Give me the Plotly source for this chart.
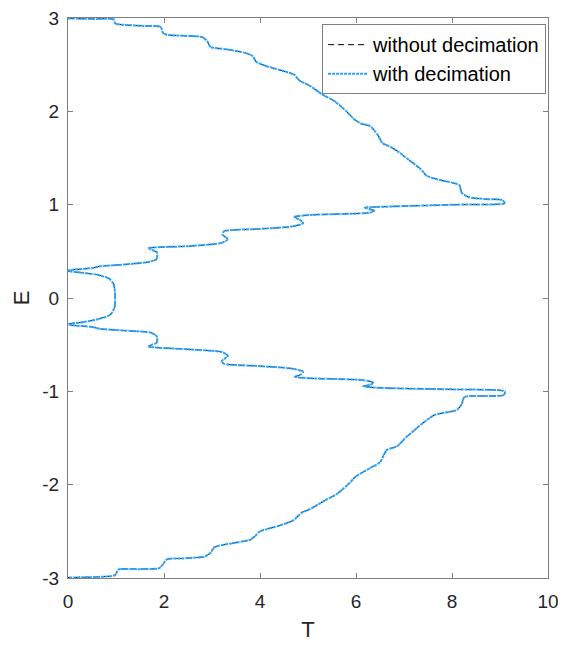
import plotly.graph_objects as go

T = [0.0, 0.5, 0.95, 0.99, 1.2, 1.6, 1.93, 1.98, 2.05, 2.4, 2.8, 2.9, 2.97, 3.3, 3.7, 3.85, 3.92, 4.1, 4.5, 4.72,
     4.82, 5.05, 5.3, 5.55, 5.8, 5.95, 6.1, 6.3, 6.45, 6.55, 6.72, 6.9, 7.1, 7.35, 7.47, 7.7, 8.15, 8.2, 8.35, 8.7,
     9.05, 9.1,
     8.1, 7.0, 6.4, 6.18, 6.38, 6.3, 5.05, 4.72, 4.85, 4.9, 4.65, 4.0, 3.25, 3.22, 3.33, 3.2, 2.5, 1.68, 1.75, 1.85,
     1.85, 1.72, 1.2, 0.67, 0.5, 0.05,
     0.0, 0.3, 0.6, 0.85, 0.95, 0.98, 0.97, 0.88, 0.6, 0.3, 0.0,
     0.05, 0.5, 0.67, 1.2, 1.72, 1.85, 1.85, 1.75, 1.68, 2.5, 3.22, 3.33, 3.2, 3.25, 4.0, 4.65, 4.9, 4.85, 4.72,
     5.05, 6.15, 6.36, 6.3, 6.15, 6.4, 7.0, 8.1, 9.1,
     9.08, 8.7, 8.26, 8.2, 8.1, 7.65, 7.47, 7.3, 7.05, 6.85, 6.64, 6.5, 6.3, 6.0, 5.85, 5.6, 5.35, 5.05, 4.87, 4.7,
     4.4, 4.0, 3.9, 3.8, 3.4, 3.05, 2.97, 2.85, 2.4, 2.06, 1.97, 1.9, 1.5, 1.05, 0.98, 0.5, 0.0]

E = [2.995, 2.99, 2.985, 2.94, 2.925, 2.915, 2.905, 2.84, 2.82, 2.81, 2.795, 2.75, 2.69, 2.665, 2.625, 2.59, 2.53,
     2.49, 2.43, 2.39, 2.33, 2.27, 2.18, 2.11, 2.0, 1.92, 1.87, 1.84, 1.75, 1.66, 1.62, 1.56, 1.48, 1.38, 1.31, 1.27,
     1.21, 1.13, 1.08, 1.06, 1.05, 1.015,
     1.0, 0.985, 0.975, 0.968, 0.935, 0.915, 0.89, 0.87, 0.83, 0.8, 0.765, 0.74, 0.715, 0.68, 0.63, 0.59, 0.555,
     0.535, 0.515, 0.49, 0.42, 0.39, 0.36, 0.34, 0.32, 0.3,
     0.29, 0.27, 0.25, 0.21, 0.15, 0.05, -0.1, -0.18, -0.23, -0.26, -0.28,
     -0.29, -0.31, -0.33, -0.35, -0.37, -0.41, -0.48, -0.5, -0.52, -0.55, -0.58, -0.62, -0.68, -0.705, -0.73,
     -0.755, -0.79, -0.82, -0.845, -0.86, -0.88, -0.905, -0.93, -0.945, -0.96, -0.97, -0.98, -1.0,
     -1.04, -1.05, -1.06, -1.14, -1.2, -1.25, -1.31, -1.38, -1.49, -1.59, -1.63, -1.76, -1.82, -1.91, -1.99, -2.1,
     -2.17, -2.26, -2.3, -2.38, -2.44, -2.5, -2.55, -2.59, -2.63, -2.67, -2.73, -2.77, -2.79, -2.8, -2.86, -2.895,
     -2.905, -2.91, -2.97, -2.99, -2.995]

x_ticks = [0, 2, 4, 6, 8, 10]
y_ticks = [-3, -2, -1, 0, 1, 2, 3]
y_tick_text = ["-3", "-2", "-1", "0", "1", "2", "3"]

font = "Liberation Sans, Arial, sans-serif"
axis_col = "#7f7f7f"

fig = go.Figure()
fig.add_trace(go.Scatter(x=T, y=E, mode="lines", name="without decimation",
                         line=dict(color="black", width=1.0, dash="6px,4px", shape="spline", smoothing=0.6)))
fig.add_trace(go.Scatter(x=T, y=E, mode="lines", name="with decimation",
                         line=dict(color="#2aa3ff", width=2, dash="3px,1px", shape="spline", smoothing=0.6)))

fig.update_layout(
    width=558, height=637,
    margin=dict(l=60, r=18, t=10, b=67, autoexpand=False),
    paper_bgcolor="white", plot_bgcolor="white",
    font=dict(family=font, size=19, color="#262626"),
    showlegend=True,
    legend=dict(x=0.996, y=0.989, xanchor="right", yanchor="top",
                bgcolor="white", bordercolor=axis_col, borderwidth=1,
                font=dict(size=20, color="#000000"), tracegroupgap=0, itemwidth=40),
    xaxis=dict(range=[0, 10], tickvals=x_ticks, ticks="inside", ticklen=5, tickcolor=axis_col,
               showline=True, linecolor=axis_col, linewidth=1, mirror="ticks", showgrid=False, zeroline=False,
               automargin=False, ticklabelstandoff=6, ticklabeloverflow="allow",
               title=dict(text="T", font=dict(size=22), standoff=10), tickfont=dict(size=19)),
    yaxis=dict(range=[-3, 3], tickvals=y_ticks, ticktext=y_tick_text, ticks="inside", ticklen=5, tickcolor=axis_col,
               showline=True, linecolor=axis_col, linewidth=1, mirror="ticks", showgrid=False, zeroline=False,
               automargin=False, ticklabelstandoff=4, ticklabeloverflow="allow",
               title=dict(text="E", font=dict(size=22), standoff=6), tickfont=dict(size=19)),
)

fig.write_html("out.html")
